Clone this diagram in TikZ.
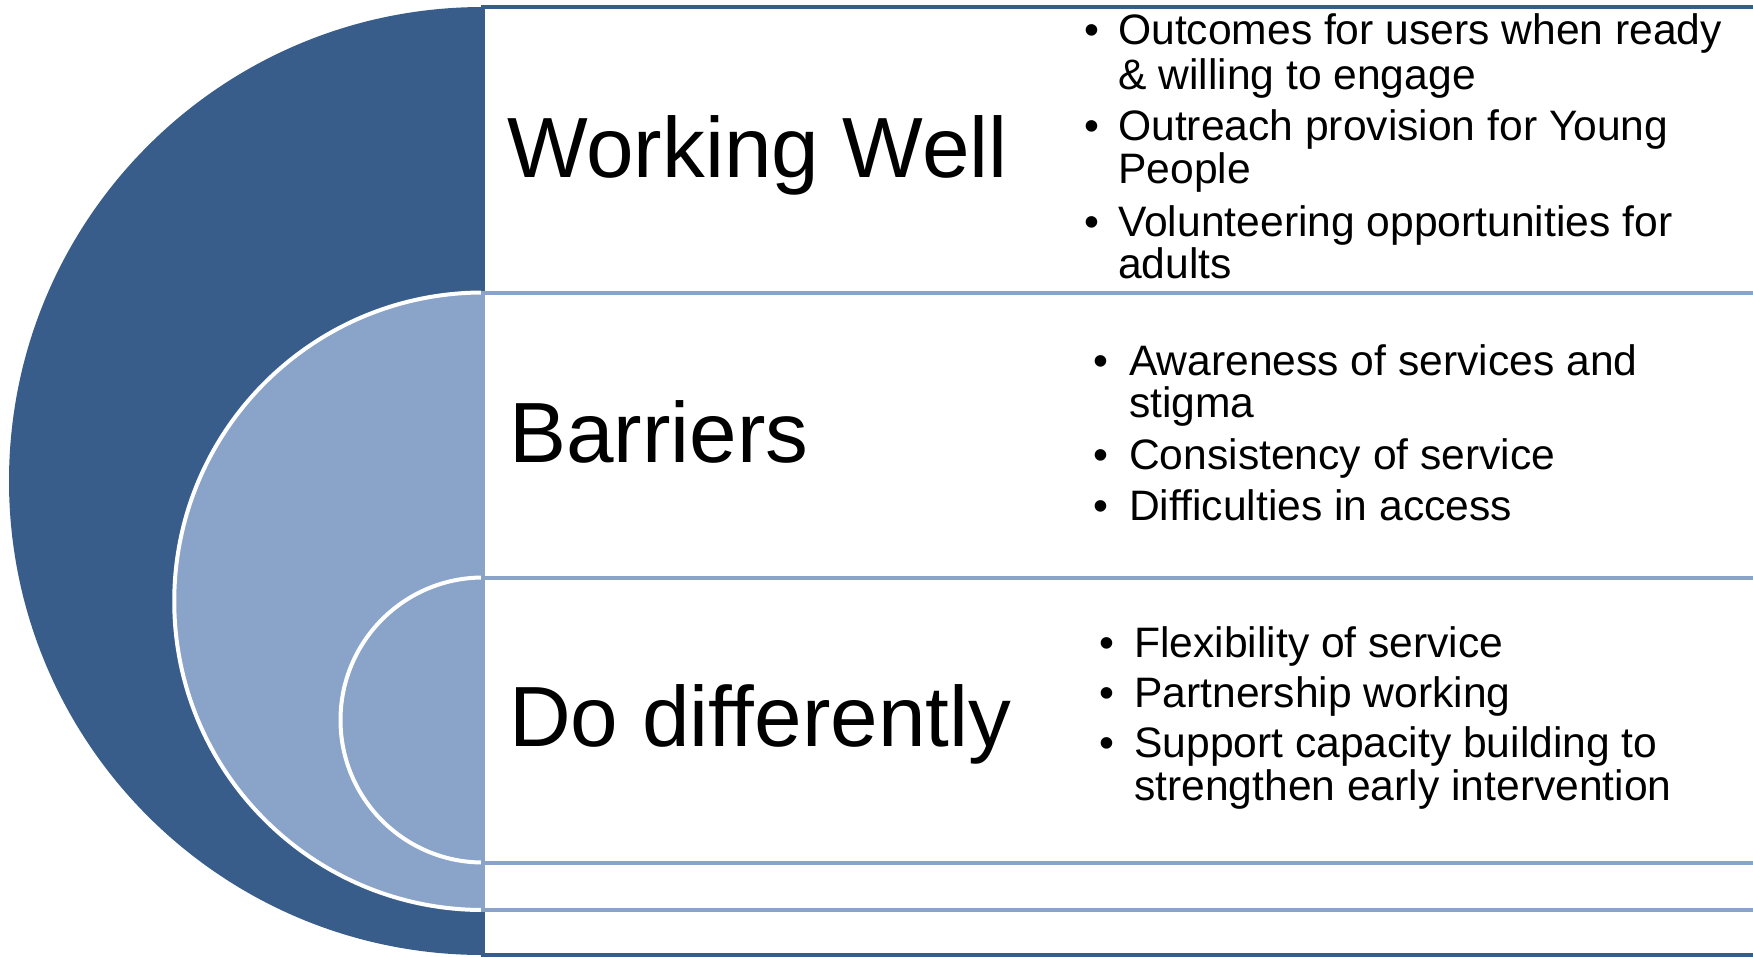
\documentclass[tikz,border=0pt]{standalone}
\usepackage{fontspec}
\setmainfont{Liberation Sans}
\definecolor{darkblue}{RGB}{56,93,138}
\definecolor{lightblue}{RGB}{138,163,201}
\tikzset{
  big/.style={anchor=base west, inner sep=0pt, font=\fontsize{85.5}{90}\selectfont},
  item/.style={anchor=base west, inner sep=0pt, font=\fontsize{42.6}{44}\selectfont},
  panel/.style={fill=white, line width=4pt},
  ring/.style={fill=lightblue, draw=white, line width=4pt},
}
\begin{document}
\begin{tikzpicture}[x=1pt,y=-1pt]
\useasboundingbox (0,0) rectangle (1753,956);
% nested half circles
\fill[darkblue] (483,7) arc[start angle=270, end angle=90, radius=474] -- cycle;
\path[ring] (483,292.5) arc[start angle=270, end angle=90, radius=308.75] -- cycle;
\path[ring] (483,577.5) arc[start angle=270, end angle=90, radius=142.5] -- cycle;
% panels
\draw[panel, draw=darkblue] (483,7) rectangle (1770,955);
\draw[panel, draw=lightblue] (483,292.5) rectangle (1770,910);
\draw[panel, draw=lightblue] (483,577.5) rectangle (1770,862.5);
% headings
\node[big] (ww) at (507,177) {Working Well};
\node[big] (ba) at (509,462) {Barriers};
\node[big] (dd) at (509,746) {Do differently};
% working well items
\node[item] (b11) at (1084,44) {•};
\node[item] (t11a) at (1118,44) {Outcomes for users when ready};
\node[item] (t11b) at (1118,89) {\& willing to engage};
\node[item] (b12) at (1084,140) {•};
\node[item] (t12a) at (1118,140) {Outreach provision for Young};
\node[item] (t12b) at (1118,183) {People};
\node[item] (b13) at (1084,236) {•};
\node[item] (t13a) at (1118,236) {Volunteering opportunities for};
\node[item] (t13b) at (1118,278) {adults};
% barriers items
\node[item] (b21) at (1093,375) {•};
\node[item] (t21a) at (1129,375) {Awareness of services and};
\node[item] (t21b) at (1129,417) {stigma};
\node[item] (b22) at (1093,469) {•};
\node[item] (t22) at (1129,469) {Consistency of service};
\node[item] (b23) at (1093,520) {•};
\node[item] (t23) at (1129,520) {Difficulties in access};
% do differently items
\node[item] (b31) at (1099,657) {•};
\node[item] (t31) at (1134,657) {Flexibility of service};
\node[item] (b32) at (1099,707) {•};
\node[item] (t32) at (1134,707) {Partnership working};
\node[item] (b33) at (1099,757) {•};
\node[item] (t33a) at (1134,757) {Support capacity building to};
\node[item] (t33b) at (1134,800) {strengthen early intervention};
\end{tikzpicture}
\end{document}
